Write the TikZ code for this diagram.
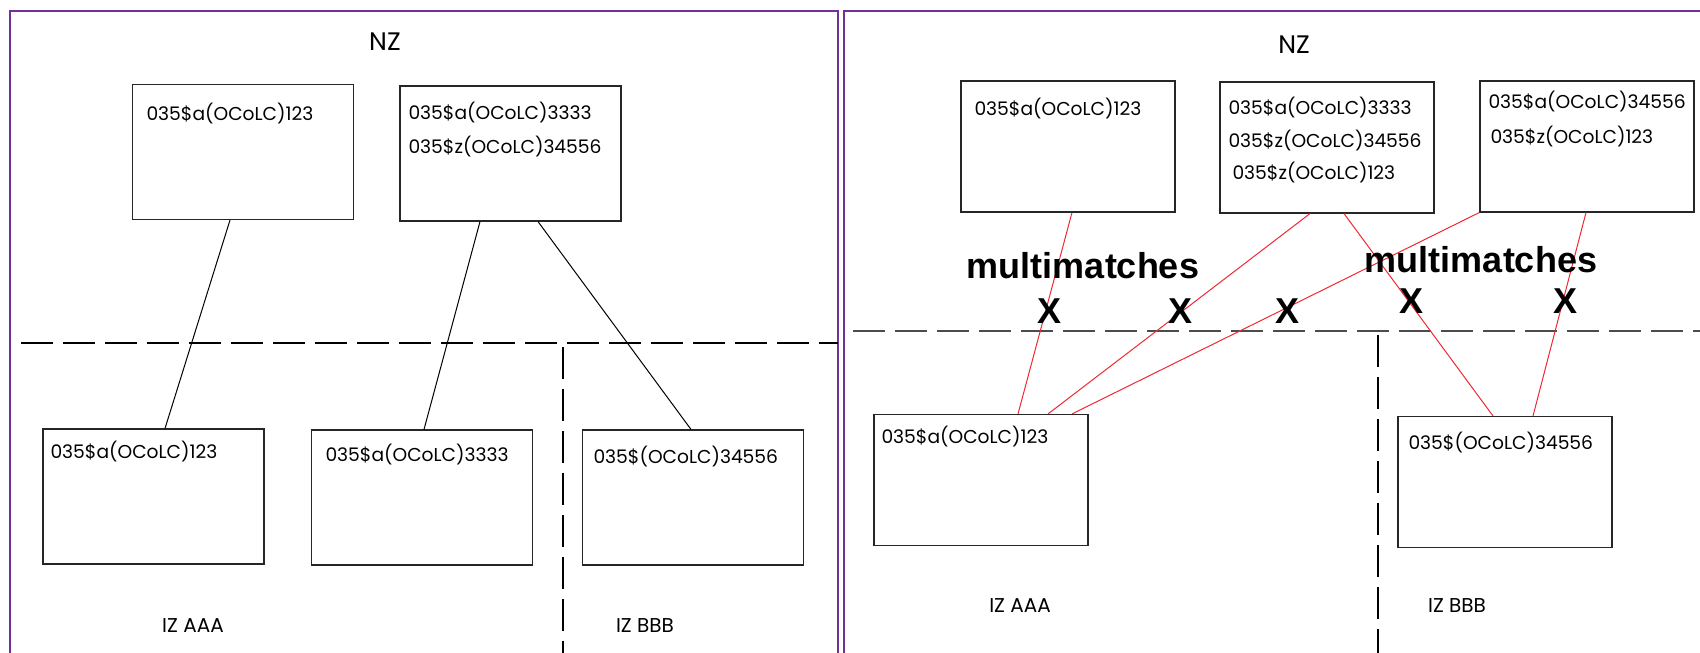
\documentclass[tikz,border=0pt]{standalone}
\usepackage{fontspec}
\setmainfont{Poppins}
\newfontfamily\boldsans{Liberation Sans}
\usetikzlibrary{calc}
\definecolor{framepurple}{RGB}{112,48,150}
\definecolor{linkred}{RGB}{240,40,50}
\tikzset{every picture/.style={line width=0.75pt}}

\begin{document}
\begin{tikzpicture}[x=0.75pt,y=0.75pt,yscale=-1,xscale=1,
	panel/.style={draw=framepurple,line width=1.5pt},
	zoneline/.style={line width=1.1pt,dash pattern=on 24pt off 7.5pt},
	splitline/.style={line width=0.8pt,dash pattern=on 24pt off 7.5pt},
	bigbox/.style={draw=black!85,line width=1.1pt,inner sep=0pt,minimum width=165.5pt,minimum height=101pt},
	smallbox/.style={draw=black!85,line width=1.1pt,inner sep=0pt,minimum width=160.5pt,minimum height=98pt},
	rectext/.style={anchor=base west,inner sep=0pt,font=\fontsize{14}{17}\selectfont},
	zonelabel/.style={inner sep=0pt,font=\fontsize{19}{22}\selectfont},
	izlabel/.style={inner sep=0pt,font=\fontsize{15}{18}\selectfont},
	matchlabel/.style={anchor=base,inner sep=0pt,font=\boldsans\bfseries\fontsize{27}{30}\selectfont},
	link/.style={line width=0.75pt},
	redlink/.style={draw=linkred,line width=0.75pt}]
	\useasboundingbox (0,0) rectangle (1700,653);
	%Shape: Frame left
	\draw[panel] (10,653) -- (10,11) -- (838,11) -- (838,653);
	%Shape: Frame right
	\draw[panel] (844,653) -- (844,11) -- (1700,11);
	%Straight Lines left
	\draw[zoneline] (21,343) -- (838,343);
	\draw[splitline] (563,347) -- (563,653);
	%Straight Lines right
	\draw[zoneline,black!70] (853,331) -- (1700,331);
	\draw[splitline] (1378,335) -- (1378,653);

	% Text Node
	\draw (385,42) node (nzleft) [zonelabel] {NZ};
	% Text Node
	\draw (1294,45) node (nzright) [zonelabel] {NZ};

	%Shape: Rectangle NZ left
	\draw (243,152) node (nzone) [bigbox] {};
	\draw (510.5,153.5) node (nztwo) [bigbox] {};
	%Shape: Rectangle IZ left
	\draw (153.5,496.5) node (izone) [bigbox] {};
	\draw (422,497.5) node (iztwo) [bigbox] {};
	\draw (693,497.5) node (izthree) [bigbox] {};
	%Shape: Rectangle NZ right
	\draw (1068,146.5) node (rnzone) [smallbox] {};
	\draw (1327,147.5) node (rnztwo) [smallbox] {};
	\draw (1587,146.5) node (rnzthree) [smallbox] {};
	%Shape: Rectangle IZ right
	\draw (981,480) node (rizone) [smallbox] {};
	\draw (1505,482) node (riztwo) [smallbox] {};

	% Text Node
	\draw (146,120) node (nzonea) [rectext] {035\$a(OCoLC)123};
	\draw (408,119) node (nztwoa) [rectext] {035\$a(OCoLC)3333};
	\draw (408,153) node (nztwoz) [rectext] {035\$z(OCoLC)34556};
	\draw (50,458) node (izonea) [rectext] {035\$a(OCoLC)123};
	\draw (325,461) node (iztwoa) [rectext] {035\$a(OCoLC)3333};
	\draw (593,463) node (izthreea) [rectext] {035\$(OCoLC)34556};
	% Text Node
	\draw (974,115) node (rnzonea) [rectext] {035\$a(OCoLC)123};
	\draw (1228,114) node (rnztwoa) [rectext] {035\$a(OCoLC)3333};
	\draw (1228,147) node (rnztwoz) [rectext] {035\$z(OCoLC)34556};
	\draw (1232,179) node (rnztwozz) [rectext] {035\$z(OCoLC)123};
	\draw (1488,108) node (rnzthreea) [rectext] {035\$a(OCoLC)34556};
	\draw (1490,143) node (rnzthreez) [rectext] {035\$z(OCoLC)123};
	\draw (881,443) node (rizonea) [rectext] {035\$a(OCoLC)123};
	\draw (1408,449) node (riztwoa) [rectext] {035\$(OCoLC)34556};

	% Text Node
	\draw (193,626) node (izaaa) [izlabel] {IZ AAA};
	\draw (645,626) node (izbbb) [izlabel] {IZ BBB};
	\draw (1020,606) node (rizaaa) [izlabel] {IZ AAA};
	\draw (1457,606) node (rizbbb) [izlabel] {IZ BBB};

	%Straight Lines
	\draw[link] ($(nzone.south)+(-13,0)$) -- ($(izone.north)+(11.5,0)$);
	\draw[link] ($(nztwo.south)+(-30.5,0)$) -- ($(iztwo.north)+(2,0)$);
	\draw[link] ($(nztwo.south)+(27.5,0)$) -- ($(izthree.north)+(-2,0)$);
	%Straight Lines red
	\draw[redlink] ($(rnzone.south)+(4,0)$) -- ($(rizone.north)+(37,0)$);
	\draw[redlink] ($(rnztwo.south)+(-17,0)$) -- ($(rizone.north)+(67,0)$);
	\draw[redlink] (rnzthree.south west) -- ($(rizone.north)+(91,0)$);
	\draw[redlink] ($(rnztwo.south)+(17,0)$) -- ($(riztwo.north)+(-12,0)$);
	\draw[redlink] ($(rnzthree.south)+(-1,0)$) -- ($(riztwo.north)+(28,0)$);

	% Text Node
	\draw (1083,278) node (mmone) [matchlabel] {multimatches};
	\draw (1481,272) node (mmtwo) [matchlabel] {multimatches};
	% Text Node
	\draw (1049,323) node (xone) [matchlabel] {X};
	\draw (1180,323) node (xtwo) [matchlabel] {X};
	\draw (1287,323) node (xthree) [matchlabel] {X};
	\draw (1411,313) node (xfour) [matchlabel] {X};
	\draw (1565,313) node (xfive) [matchlabel] {X};

\end{tikzpicture}
\end{document}
